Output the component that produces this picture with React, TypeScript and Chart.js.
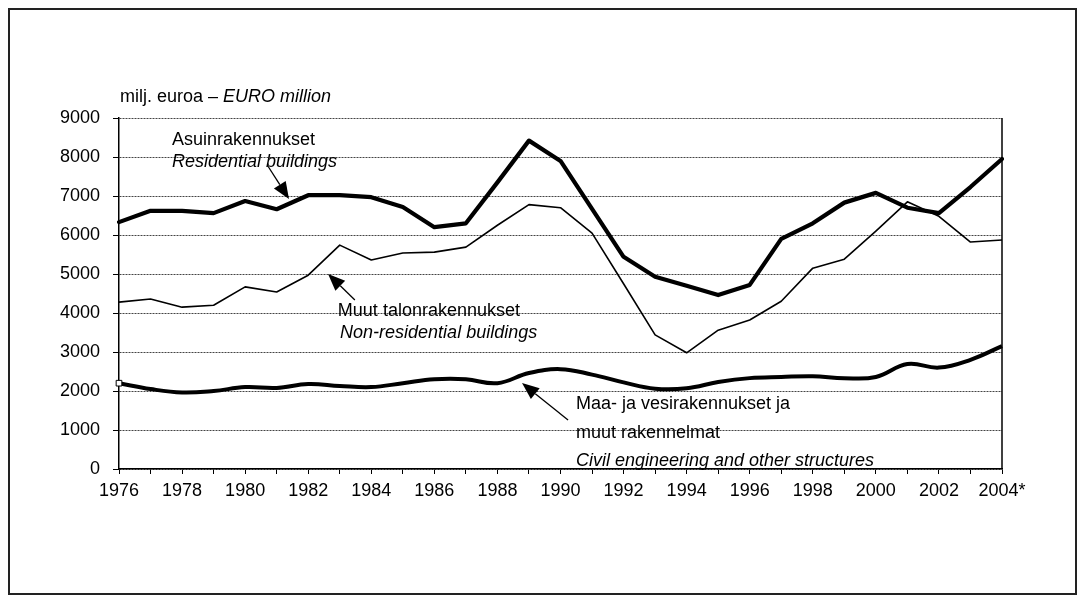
import React, { useEffect, useRef } from 'react';
import { Chart, registerables } from 'chart.js';

Chart.register(...registerables);

const FONT = '"Liberation Sans", Arial, Helvetica, sans-serif';

// ---- data ----
const years = [
  '1976', '1977', '1978', '1979', '1980', '1981', '1982', '1983', '1984', '1985',
  '1986', '1987', '1988', '1989', '1990', '1991', '1992', '1993', '1994', '1995',
  '1996', '1997', '1998', '1999', '2000', '2001', '2002', '2003', '2004',
];
const xTickLabels = [
  '1976', '', '1978', '', '1980', '', '1982', '', '1984', '',
  '1986', '', '1988', '', '1990', '', '1992', '', '1994', '',
  '1996', '', '1998', '', '2000', '', '2002', '', '2004*',
];

// Residential buildings (thick line)
const residential = [
  6330, 6620, 6620, 6560, 6870, 6660, 7020, 7020, 6970, 6720,
  6200, 6300, 7350, 8420, 7900, 6670, 5440, 4930, 4700, 4460,
  4720, 5900, 6300, 6830, 7080, 6700, 6560, 7230, 7950,
];
// Non-residential buildings (thin line)
const nonResidential = [
  4280, 4360, 4150, 4200, 4670, 4540, 4970, 5740, 5360, 5540,
  5560, 5690, 6250, 6780, 6700, 6050, 4750, 3440, 2980, 3560,
  3820, 4300, 5150, 5380, 6100, 6850, 6480, 5820, 5870,
];
// Civil engineering and other structures
const civil = [
  2200, 2050, 1960, 2000, 2100, 2080, 2180, 2130, 2100, 2200,
  2300, 2300, 2200, 2460, 2560, 2420, 2220, 2060, 2070, 2230,
  2330, 2360, 2380, 2330, 2360, 2690, 2600, 2800, 3150,
];

const yMin = 0;
const yMax = 9000;
const yStep = 1000;

const unitLabelFi = 'milj. euroa – ';
const unitLabelEn = 'EURO million';

// annotation texts anchored in data coordinates (x = category index, y = value)
const residentialLines = [
  { text: 'Asuinrakennukset', italic: false, x: 1.68, y: 8308 },
  { text: 'Residential buildings', italic: true, x: 1.68, y: 7744 },
];
const residentialArrow = [4.72, 7769, 5.39, 6923];

const nonResidentialLines = [
  { text: 'Muut talonrakennukset', italic: false, x: 6.94, y: 3923 },
  { text: 'Non-residential buildings', italic: true, x: 7.01, y: 3359 },
];
const nonResidentialArrow = [7.48, 4333, 6.63, 5000];

const civilLines = [
  { text: 'Maa- ja vesirakennukset ja', italic: false, x: 14.49, y: 1538 },
  { text: 'muut rakennelmat', italic: false, x: 14.49, y: 795 },
  { text: 'Civil engineering and other structures', italic: true, x: 14.49, y: 77 },
];
const civilArrow = [14.24, 1256, 12.78, 2205];

const annotationPlugin = {
  id: 'annotations',
  afterDraw(chart: any) {
    const { ctx, chartArea, scales } = chart;
    const xs = scales.x;
    const ys = scales.y;
    const px = (i: number) => xs.getPixelForValue(i);
    const py = (v: number) => ys.getPixelForValue(v);
    ctx.save();
    // right border of plot area
    ctx.strokeStyle = '#000';
    ctx.lineWidth = 1.5;
    ctx.beginPath();
    ctx.moveTo(chartArea.right, chartArea.top);
    ctx.lineTo(chartArea.right, chartArea.bottom);
    ctx.stroke();

    ctx.fillStyle = '#000';
    ctx.textBaseline = 'alphabetic';
    ctx.textAlign = 'left';
    // unit label
    ctx.font = `18px ${FONT}`;
    ctx.fillText(unitLabelFi, chartArea.left + 1, chartArea.top - 16);
    const w = ctx.measureText(unitLabelFi).width;
    ctx.font = `italic 18px ${FONT}`;
    ctx.fillText(unitLabelEn, chartArea.left + 1 + w, chartArea.top - 16);

    const groups = [
      { lines: residentialLines, arrow: residentialArrow },
      { lines: nonResidentialLines, arrow: nonResidentialArrow },
      { lines: civilLines, arrow: civilArrow },
    ];
    for (const g of groups) {
      for (const l of g.lines) {
        ctx.font = `${l.italic ? 'italic ' : ''}18px ${FONT}`;
        ctx.fillText(l.text, px(l.x), py(l.y));
      }
      const x1 = px(g.arrow[0]);
      const y1 = py(g.arrow[1]);
      const x2 = px(g.arrow[2]);
      const y2 = py(g.arrow[3]);
      const ang = Math.atan2(y2 - y1, x2 - x1);
      const headLen = 17;
      const headHalf = 7;
      const bx = x2 - headLen * Math.cos(ang);
      const by = y2 - headLen * Math.sin(ang);
      ctx.strokeStyle = '#000';
      ctx.lineWidth = 1.3;
      ctx.beginPath();
      ctx.moveTo(x1, y1);
      ctx.lineTo(bx, by);
      ctx.stroke();
      ctx.beginPath();
      ctx.moveTo(x2, y2);
      ctx.lineTo(bx + headHalf * Math.sin(ang), by - headHalf * Math.cos(ang));
      ctx.lineTo(bx - headHalf * Math.sin(ang), by + headHalf * Math.cos(ang));
      ctx.closePath();
      ctx.fill();
    }
    ctx.restore();
  },
};

export default function App() {
  const canvasRef = useRef<HTMLCanvasElement | null>(null);

  useEffect(() => {
    if (!canvasRef.current) return;
    Chart.defaults.font.family = FONT;
    Chart.defaults.color = '#000';
    const chart = new Chart(canvasRef.current, {
      type: 'line',
      data: {
        labels: years,
        datasets: [
          {
            label: 'Residential buildings',
            data: residential,
            borderColor: '#000',
            borderWidth: 4.2,
            pointRadius: 0,
            tension: 0,
            borderJoinStyle: 'round',
            borderCapStyle: 'round',
          },
          {
            label: 'Non-residential buildings',
            data: nonResidential,
            borderColor: '#000',
            borderWidth: 1.6,
            pointRadius: 0,
            tension: 0,
            borderJoinStyle: 'round',
          },
          {
            label: 'Civil engineering and other structures',
            data: civil,
            borderColor: '#000',
            borderWidth: 4,
            tension: 0.4,
            pointStyle: 'rect',
            pointRadius: (c: any) => (c.dataIndex === 0 ? 4 : 0),
            pointBackgroundColor: '#fff',
            pointBorderColor: '#000',
            pointBorderWidth: 1,
            borderJoinStyle: 'round',
          },
        ],
      },
      options: {
        responsive: false,
        animation: false,
        events: [],
        layout: { padding: { left: 41, right: 75, top: 110, bottom: 86 } },
        plugins: {
          legend: { display: false },
          tooltip: { enabled: false },
          title: { display: false },
        },
        scales: {
          x: {
            type: 'category',
            offset: false,
            afterFit: (s: any) => { s.height = 40; },
            grid: {
              display: true,
              drawOnChartArea: false,
              drawTicks: true,
              tickLength: 5,
              tickColor: '#000',
              tickWidth: 1,
            },
            border: { display: true, color: '#000', width: 1.5 },
            ticks: {
              autoSkip: false,
              maxRotation: 0,
              minRotation: 0,
              padding: 6,
              color: '#000',
              font: { size: 18, family: FONT },
              callback: (_v: any, i: number) => xTickLabels[i],
            },
          },
          y: {
            min: yMin,
            max: yMax,
            afterFit: (s: any) => { s.width = 70; },
            ticks: {
              stepSize: yStep,
              padding: 13,
              color: '#000',
              font: { size: 18, family: FONT },
              callback: (v: any) => String(v),
            },
            grid: {
              color: '#444',
              lineWidth: 1,
              drawTicks: true,
              tickLength: 6,
              tickColor: '#000',
              tickBorderDash: [],
            },
            border: { display: true, color: '#000', width: 1.5, dash: [2, 1] },
          },
        },
      },
      plugins: [annotationPlugin],
    });
    return () => chart.destroy();
  }, []);

  return (
    <div style={{ position: 'relative', width: 1069, height: 587 }}>
      <canvas
        ref={canvasRef}
        width={1069}
        height={587}
        style={{ position: 'absolute', left: 0, top: 0, width: 1069, height: 587 }}
      />
      <div
        style={{
          position: 'absolute',
          left: 0,
          top: 0,
          width: 1069,
          height: 587,
          border: '2px solid #222',
          boxSizing: 'border-box',
          pointerEvents: 'none',
        }}
      />
    </div>
  );
}
